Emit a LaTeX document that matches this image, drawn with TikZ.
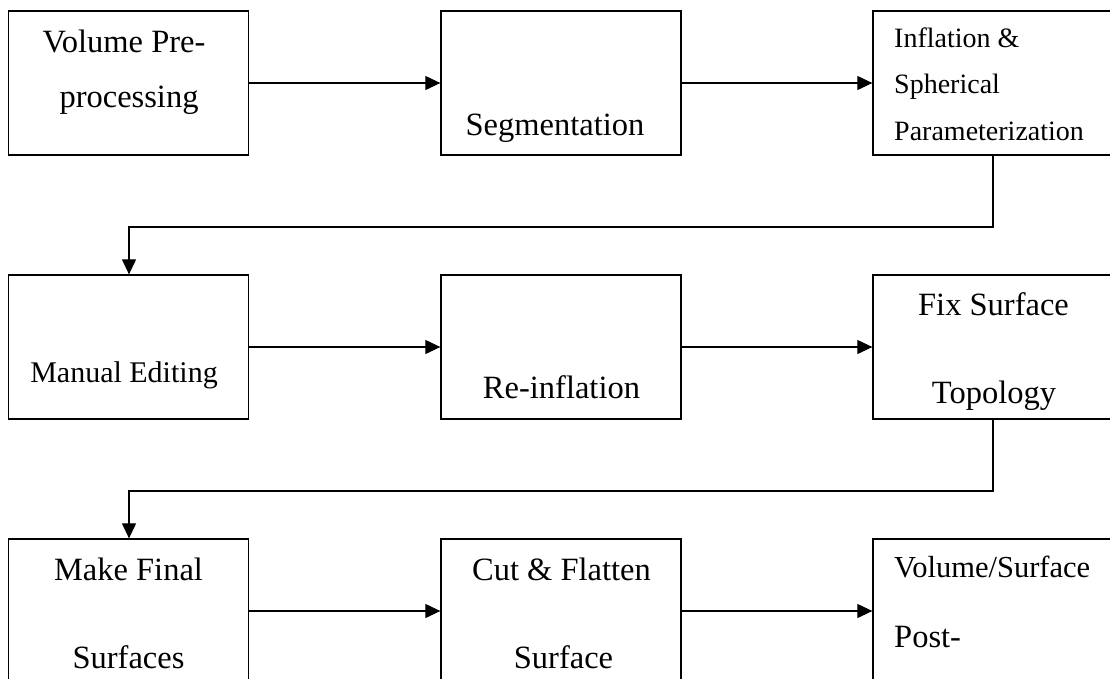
\documentclass[tikz,border=0pt]{standalone}
\usepackage{fontspec}
\setmainfont{Liberation Serif}
\usetikzlibrary{arrows.meta}
\begin{document}
\begin{tikzpicture}[x=1pt,y=-1pt,
  stepbox/.style={draw,line width=1.3pt,rectangle,minimum width=240pt,minimum height=144pt,inner sep=0pt},
  flow/.style={line width=1.1pt,-{Triangle[length=15pt,width=14pt]}},
  big/.style={inner sep=0pt,anchor=base,font=\fontsize{32.5}{39}\selectfont},
  bigl/.style={inner sep=0pt,anchor=base west,font=\fontsize{30.5}{37}\selectfont},
  small/.style={inner sep=0pt,anchor=base west,font=\fontsize{28}{34}\selectfont}]
\useasboundingbox (0,0) rectangle (1110,678);
\clip (0,0) rectangle (1110,678);
% boxes
\node[stepbox] (b1) at (128.5,83) {};
\node[stepbox] (b2) at (561,83) {};
\node[stepbox] (b3) at (993,83) {};
\node[stepbox] (b4) at (128.5,347) {};
\node[stepbox] (b5) at (561,347) {};
\node[stepbox] (b6) at (993,347) {};
\node[stepbox] (b7) at (128.5,611) {};
\node[stepbox] (b8) at (561,611) {};
\node[stepbox] (b9) at (993,611) {};
% texts
\node[big] (t1a) at (124,52) {Volume Pre-};
\node[big] (t1b) at (129,107) {processing};
\node[big] (t2) at (555,135) {Segmentation};
\node[small] (t3a) at (894,47) {Inflation \&};
\node[small] (t3b) at (894,93) {Spherical};
\node[small] (t3c) at (894,140) {Parameterization};
\node[big,font=\fontsize{30}{36}\selectfont] (t4) at (124,382) {Manual Editing};
\node[big] (t5) at (561.5,398) {Re-inflation};
\node[big] (t6a) at (993.5,315) {Fix Surface};
\node[big] (t6b) at (994,403) {Topology};
\node[big] (t7a) at (128.5,580) {Make Final};
\node[big] (t7b) at (128.5,668) {Surfaces};
\node[big] (t8a) at (561.5,580) {Cut \& Flatten};
\node[big] (t8b) at (563.5,668) {Surface};
\node[bigl] (t9a) at (894,577) {Volume/Surface};
\node[bigl,font=\fontsize{32.5}{39}\selectfont] (t9b) at (894,647) {Post-};
% connectors
\coordinate (c1) at (993,227);
\coordinate (c2) at (129,227);
\coordinate (c3) at (993,491);
\coordinate (c4) at (129,491);
\draw[flow] (b1.east) -- (b2.west);
\draw[flow] (b2.east) -- (b3.west);
\draw[flow] (b3.south) -- (c1) -- (c2) -- (c2 |- b4.north);
\draw[flow] (b4.east) -- (b5.west);
\draw[flow] (b5.east) -- (b6.west);
\draw[flow] (b6.south) -- (c3) -- (c4) -- (c4 |- b7.north);
\draw[flow] (b7.east) -- (b8.west);
\draw[flow] (b8.east) -- (b9.west);
\end{tikzpicture}
\end{document}
